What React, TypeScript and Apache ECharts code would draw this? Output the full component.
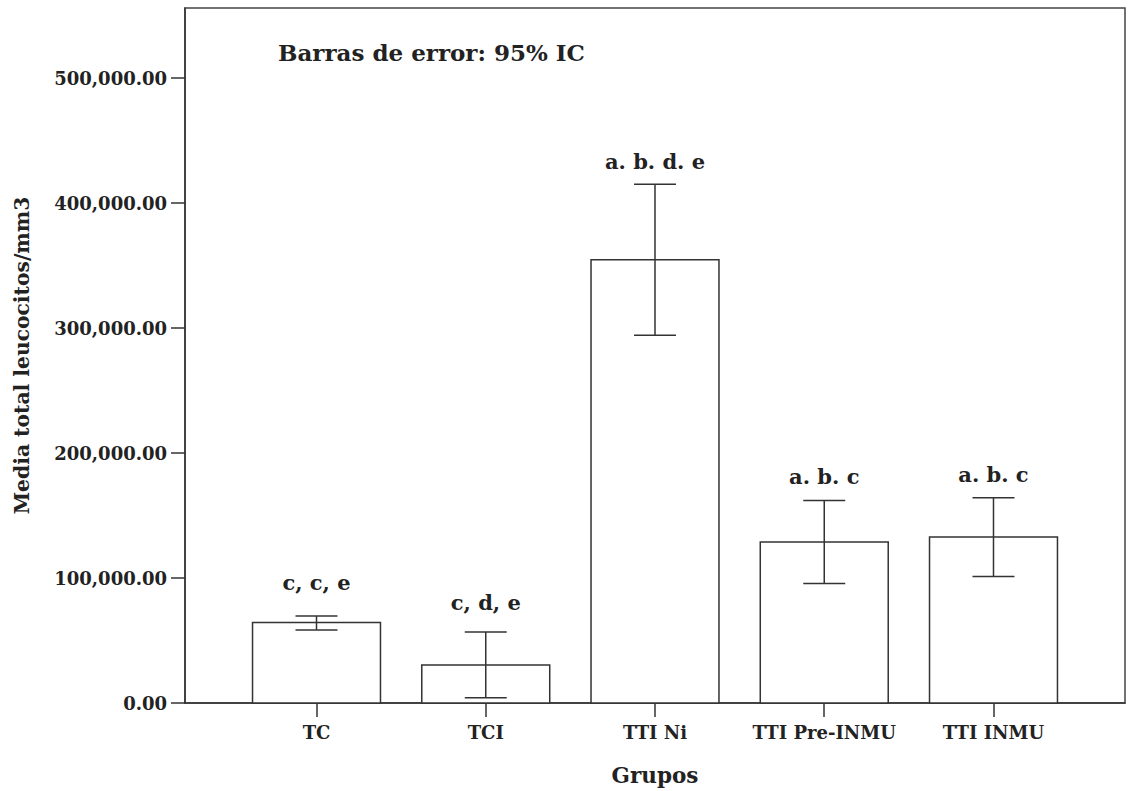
import React, { useEffect, useRef } from "react";
import * as echarts from "echarts";

const categories = ["TC", "TCI", "TTI Ni", "TTI Pre-INMU", "TTI INMU"];
const means = [64500, 30400, 354600, 128800, 132800];
const ciLow = [58500, 4200, 294200, 95600, 101200];
const ciHigh = [69700, 56800, 415100, 162100, 164300];
const sigLetters = ["c, c, e", "c, d, e", "a. b. d. e", "a. b. c", "a. b. c"];
const sigLabelValues = [96600, 80700, 433000, 181300, 182900];
const yTicks = [0, 100000, 200000, 300000, 400000, 500000];

const FONT = "DejaVu Serif";
const INK = "#222";

export default function App() {
  const ref = useRef<HTMLDivElement>(null);
  useEffect(() => {
    if (!ref.current) return;
    const chart = echarts.init(ref.current, undefined, { renderer: "svg" });
    const data = categories.map((c, i) => [i + 1, means[i], ciLow[i], ciHigh[i], sigLabelValues[i]]);
    const barW = 0.756;
    const capW = 0.248;
    chart.setOption({
      animation: false,
      backgroundColor: "#fff",
      grid: {
        left: 185,
        right: 5,
        top: 8,
        bottom: 87,
        show: true,
        borderColor: "#444",
        borderWidth: 1.5,
        backgroundColor: "transparent",
      },
      graphic: [
        {
          type: "text",
          left: 278,
          top: 41,
          style: { text: "Barras de error: 95% IC", font: `bold 23px '${FONT}'`, fill: INK },
        },
      ],
      xAxis: {
        type: "value",
        min: 0.223,
        max: 5.777,
        splitLine: { show: false },
        axisLine: { show: true, lineStyle: { color: "#333", width: 1.5 } },
        axisTick: { show: true, length: 14, inside: false, customValues: [1, 2, 3, 4, 5], lineStyle: { color: "#333", width: 1.5 } },
        axisLabel: {
          customValues: [1, 2, 3, 4, 5],
          formatter: (v: number) => categories[Math.round(v) - 1] ?? "",
          margin: 20,
          fontFamily: FONT,
          fontWeight: "bold",
          fontSize: 18,
          color: INK,
        },
        name: "Grupos",
        nameLocation: "middle",
        nameGap: 61,
        nameTextStyle: { fontFamily: FONT, fontWeight: "bold", fontSize: 21.5, color: INK },
      },
      yAxis: {
        type: "value",
        min: 0,
        max: 556000,
        splitLine: { show: false },
        axisLine: { show: true, lineStyle: { color: "#333", width: 1.5 } },
        axisTick: { show: true, length: 14, inside: false, customValues: yTicks, lineStyle: { color: "#333", width: 1.5 } },
        axisLabel: {
          customValues: yTicks,
          formatter: (v: number) =>
            v.toLocaleString("en-US", { minimumFractionDigits: 2, maximumFractionDigits: 2 }),
          margin: 18,
          fontFamily: FONT,
          fontWeight: "bold",
          fontSize: 18,
          color: INK,
        },
        name: "Media total leucocitos/mm3",
        nameLocation: "middle",
        nameGap: 153,
        nameRotate: 90,
        nameTextStyle: { fontFamily: FONT, fontWeight: "bold", fontSize: 20.3, color: INK },
      },
      series: [
        {
          type: "custom",
          data,
          encode: { x: 0, y: 1 },
          clip: false,
          renderItem: (params: any, api: any) => {
            const x = api.value(0);
            const mean = api.value(1);
            const lo = api.value(2);
            const hi = api.value(3);
            const lv = api.value(4);
            const base = api.coord([x, 0]);
            const top = api.coord([x, mean]);
            const pLo = api.coord([x, lo]);
            const pHi = api.coord([x, hi]);
            const pLab = api.coord([x, lv]);
            const hw = api.size([barW, 0])[0] / 2;
            const hc = api.size([capW, 0])[0] / 2;
            const ls = { stroke: "#333", lineWidth: 1.5, fill: "none" };
            return {
              type: "group",
              children: [
                {
                  type: "rect",
                  shape: { x: top[0] - hw, y: top[1], width: hw * 2, height: base[1] - top[1] },
                  style: { fill: "#fff", stroke: "#333", lineWidth: 1.5 },
                },
                { type: "line", shape: { x1: pLo[0], y1: pLo[1], x2: pHi[0], y2: pHi[1] }, style: ls },
                { type: "line", shape: { x1: pLo[0] - hc, y1: pLo[1], x2: pLo[0] + hc, y2: pLo[1] }, style: ls },
                { type: "line", shape: { x1: pHi[0] - hc, y1: pHi[1], x2: pHi[0] + hc, y2: pHi[1] }, style: ls },
                {
                  type: "text",
                  x: pLab[0],
                  y: pLab[1],
                  style: {
                    text: sigLetters[params.dataIndex],
                    font: `bold 21px '${FONT}'`,
                    fill: INK,
                    align: "center",
                    verticalAlign: "middle",
                  },
                },
              ],
            };
          },
        },
      ],
    });
    return () => chart.dispose();
  }, []);
  return <div ref={ref} style={{ position: "fixed", left: 0, top: 0, width: 1130, height: 791, background: "#fff" }} />;
}
